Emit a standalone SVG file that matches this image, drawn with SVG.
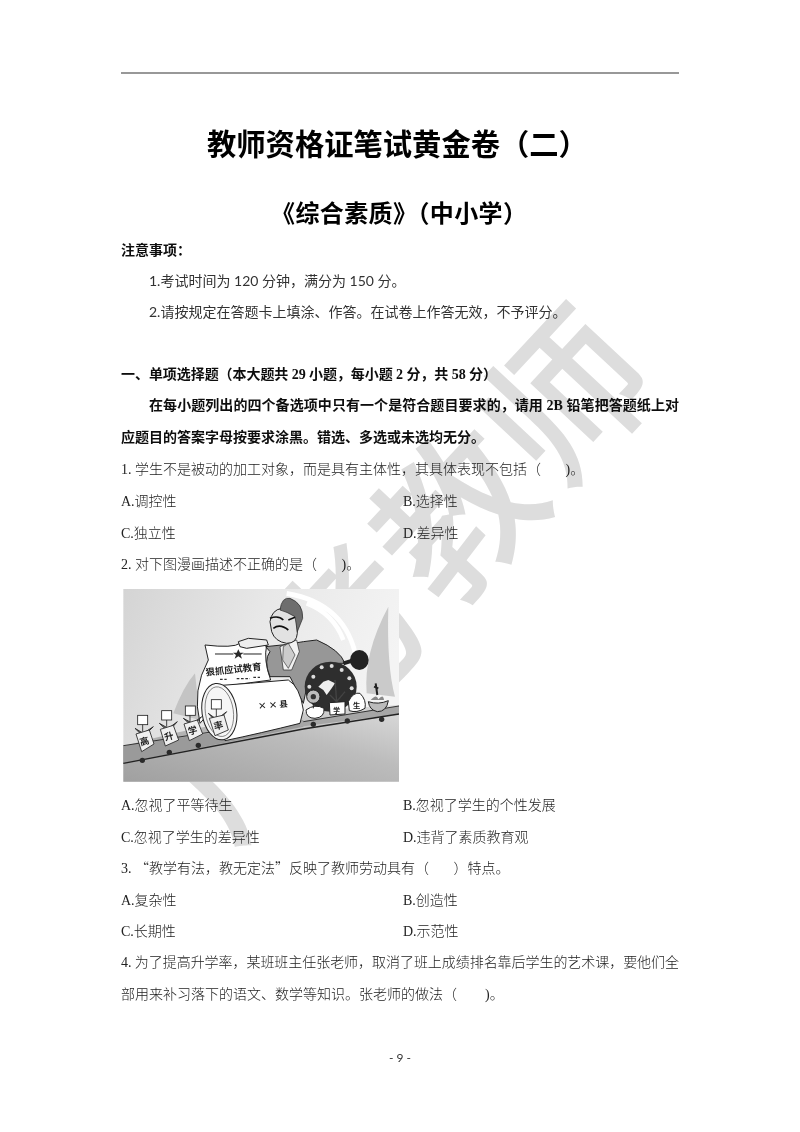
<svg xmlns="http://www.w3.org/2000/svg" width="800" height="1132" viewBox="0 0 800 1132">
<style>
text{white-space:pre}
.s{font:300 14px "Liberation Serif","Noto Sans CJK SC",sans-serif;fill:#222}
.c{font:400 14px "Lato","Noto Sans CJK SC",sans-serif;fill:#333}
.b{font:700 14px "Liberation Serif","Noto Sans CJK SC",sans-serif;fill:#111}
.h{font:700 29.3px "Liberation Sans","Noto Sans CJK SC",sans-serif;fill:#000}
.h2{font:700 24px "Liberation Sans","Noto Sans CJK SC",sans-serif;fill:#000}
.q{font-family:"Noto Sans CJK SC",sans-serif}
.l{stroke:#222;stroke-width:3;fill:#fff;stroke-linejoin:round}
.d{fill:#2a2a2a}
.k{font:700 28px "Noto Sans CJK SC",sans-serif;fill:#222}
</style>
<defs>
<linearGradient id="bg" x1="0" y1="0" x2="1" y2="0.3"><stop offset="0" stop-color="#d4d4d4"/><stop offset="0.5" stop-color="#e8e8e8"/><stop offset="1" stop-color="#f4f4f4"/></linearGradient>
<linearGradient id="gr" x1="0" y1="1" x2="1" y2="0"><stop offset="0" stop-color="#a0a0a0"/><stop offset="0.6" stop-color="#bcbcbc"/><stop offset="1" stop-color="#dcdcdc"/></linearGradient>
<filter id="bl" x="-5%" y="-5%" width="110%" height="110%"><feGaussianBlur stdDeviation="2"/></filter>
<filter id="sf" x="-2%" y="-2%" width="104%" height="104%"><feGaussianBlur stdDeviation="0.35"/></filter>
</defs>
<rect width="800" height="1132" fill="#fff"/>
<text id="watermark" transform="translate(228,848) rotate(-47)" font-family="'Noto Sans CJK SC',sans-serif" font-size="160" font-weight="500" fill="#dddddd">广考教师</text>
<g id="page" filter="url(#sf)">
<line x1="121" y1="73" x2="679" y2="73" stroke="#333" stroke-width="1.2"/>
<text class="h" x="207" y="155">教师资格证笔试黄金卷（二）</text>
<text class="h2" x="271" y="222" style="letter-spacing:.4px">《综合素质》（中小学）</text>
<text class="b q" x="121" y="255">注意事项：</text>
<text class="c" x="149" y="286">1.考试时间为 120 分钟，满分为 150 分。</text>
<text class="c" x="149" y="317">2.请按规定在答题卡上填涂、作答。在试卷上作答无效，不予评分。</text>
<text class="b" x="121" y="379" textLength="376">一、单项选择题（本大题共 29 小题，每小题 2 分，共 58 分）</text>
<text class="b" x="149" y="410" textLength="530">在每小题列出的四个备选项中只有一个是符合题目要求的，请用 2B 铅笔把答题纸上对</text>
<text class="b" x="121" y="442">应题目的答案字母按要求涂黑。错选、多选或未选均无分。</text>
<text class="s" x="121" y="474">1. 学生不是被动的加工对象，而是具有主体性，其具体表现不包括（       )。</text>
<text class="s" x="121" y="506">A.调控性</text><text class="s" x="403" y="506">B.选择性</text>
<text class="s" x="121" y="538">C.独立性</text><text class="s" x="403" y="538">D.差异性</text>
<text class="s" x="121" y="569">2. 对下图漫画描述不正确的是（       )。</text>
<g id="cartoon" transform="translate(100,580) scale(.33333)" filter="url(#bl)">
<rect x="70" y="27" width="827" height="578" fill="url(#bg)"/>
<path d="M560 40 Q740 70 770 240 M620 70 Q700 100 730 180" fill="none" stroke="#fff" stroke-width="14"/>
<path d="M70 500 Q400 400 897 375 V605 H70Z" fill="url(#gr)"/>
<path d="M800 340 Q790 220 865 80 Q860 260 885 350Z" fill="#cacaca"/>
<path d="M220 400 Q250 320 285 280 L300 420Z" fill="#c4c4c4"/>
<path d="M70 497 L610 420 L610 440 L70 550Z" fill="#9a9a9a"/>
<path d="M600 425 L897 378 L897 402 L600 440Z" fill="#a6a6a6"/>
<path d="M70 550 L610 447 L897 402" fill="none" stroke="#222" stroke-width="4"/>
<path d="M70 497 L340 455 M610 425 L897 378" fill="none" stroke="#333" stroke-width="3"/>
<g class="d"><circle cx="127" cy="541" r="8"/><circle cx="208" cy="517" r="8"/><circle cx="295" cy="496" r="8"/><circle cx="640" cy="433" r="8"/><circle cx="742" cy="423" r="8"/><circle cx="845" cy="418" r="8"/></g>
<path class="l" d="M315 195 Q400 205 420 190 L500 195 Q490 240 512 300 L400 315 L300 430 Q275 330 325 240Z"/>
<path d="M345 222H400M430 222H485" stroke="#222" stroke-width="3"/>
<path class="d" d="M415 208L420 218H431L422 225L426 236L415 229L404 236L408 225L399 218H410Z"/>
<text class="k" transform="translate(318,287) rotate(-6)">狠抓应试教育</text>
<path d="M360 298H380M410 296H450M460 292H480" stroke="#333" stroke-width="4" stroke-dasharray="8 5"/>
<path d="M497 200 Q560 195 610 185 L650 180 Q720 210 735 250 L690 250 L625 300 L610 370 L570 290 L510 290 Q490 240 510 215Z" fill="#979797" stroke="#222" stroke-width="3"/>
<path d="M540 200 L590 180 L598 215 L575 270 L550 270Z" fill="#f2f2f2" stroke="#222" stroke-width="2"/>
<path d="M550 200 L565 190 L585 225 L565 265 L548 240Z" fill="#ccc" stroke="#333" stroke-width="2"/>
<path d="M510 125 Q515 90 545 85 L590 110 L592 160 Q590 190 560 190 Q525 185 515 155Z" fill="#e2e2e2" stroke="#222" stroke-width="3"/>
<path d="M540 90 Q545 50 570 55 Q610 70 608 115 L592 155 L585 110Q560 95 540 90Z" fill="#6e6e6e" stroke="#222" stroke-width="2"/>
<path d="M510 115 Q535 105 550 120 M565 120 L585 112 M520 145 Q540 130 565 150" fill="none" stroke="#111" stroke-width="5"/>
<path d="M415 185 L445 175 L500 180 L505 195 L440 205 L420 200Z" fill="#eee" stroke="#222" stroke-width="3"/>
<path class="l" d="M340 318 Q450 310 565 300 Q600 320 610 390 L600 430 Q480 460 375 482 L340 318Z"/>
<ellipse cx="358" cy="395" rx="52" ry="85" fill="#f6f6f6" stroke="#222" stroke-width="3" transform="rotate(-8 358 395)"/>
<ellipse cx="358" cy="395" rx="42" ry="75" fill="none" stroke="#555" stroke-width="2" transform="rotate(-8 358 395)"/>
<text class="k" transform="translate(475,388) rotate(-5)" style="font-size:26px">× × 县</text>
<g id="boxes" stroke="#222" stroke-width="2.5">
<path d="M128 430V455M200 415V440M270 402V425M349 385V412" fill="none"/>
<path d="M105 445L130 460L160 440L130 470ZM178 430L205 445L232 425L205 455ZM250 415L278 430L305 410L278 440ZM325 400L350 418L380 395L350 428Z" fill="#777"/>
<rect x="113" y="406" width="30" height="28" fill="#fff"/><rect x="185" y="392" width="30" height="28" fill="#fff"/><rect x="256" y="378" width="30" height="28" fill="#fff"/><rect x="334" y="359" width="30" height="28" fill="#fff"/>
<path d="M108 462L148 450L162 492L125 515Z" fill="#f0f0f0"/><path d="M181 448L220 436L236 480L196 498Z" fill="#f0f0f0"/><path d="M252 432L292 420L308 462L268 482Z" fill="#f0f0f0"/><path d="M328 415L372 405L385 450L345 467Z" fill="#f0f0f0"/>
</g>
<text class="k" transform="translate(122,497) rotate(-15)">高</text>
<text class="k" transform="translate(196,482) rotate(-15)">升</text>
<text class="k" transform="translate(267,465) rotate(-15)">学</text>
<text class="k" transform="translate(344,450) rotate(-15)">率</text>
<g id="badge">
<path d="M730 250 L790 232" stroke="#222" stroke-width="12"/>
<ellipse cx="778" cy="240" rx="28" ry="30" fill="#222"/>
<ellipse cx="692" cy="320" rx="78" ry="75" fill="#2e2e2e"/>
<g fill="#ddd"><circle cx="640" cy="290" r="6"/><circle cx="665" cy="262" r="6"/><circle cx="695" cy="258" r="6"/><circle cx="725" cy="270" r="6"/><circle cx="748" cy="295" r="6"/><circle cx="628" cy="320" r="6"/><circle cx="755" cy="325" r="6"/></g>
<path d="M655 320L670 305L685 300L705 310L695 325L680 345L670 330Z" fill="#eee"/>
</g>
<path class="l" d="M618 390 Q645 370 672 385 Q675 412 645 415 Q618 415 618 390Z"/>
<circle cx="640" cy="350" r="20" fill="#bbb" stroke="#222" stroke-width="3"/><circle cx="640" cy="350" r="8" fill="#333"/>
<path d="M640 370V385" stroke="#222" stroke-width="3"/>
<path class="l" d="M688 368 L735 365 L735 402 L690 405Z"/>
<path d="M710 365 L705 300 M710 365 L690 345 M710 365 L735 335" stroke="#444" stroke-width="4" fill="none"/>
<text class="k" x="700" y="398" style="font-size:20px">学</text>
<path class="l" d="M745 365 Q760 335 780 340 Q800 360 795 385 Q770 400 748 392Z"/>
<text class="k" x="759" y="384" style="font-size:22px">生</text>
<path d="M805 365 Q835 375 865 362 Q860 395 832 395 Q808 390 805 365Z" fill="#bbb" stroke="#222" stroke-width="3"/>
<path d="M812 360 Q830 340 835 358 Q850 340 852 360Z" fill="#888"/>
<path d="M827 310 L832 345 M822 320 L835 325" stroke="#222" stroke-width="6"/>
</g>
<text class="s" x="121" y="810">A.忽视了平等待生</text><text class="s" x="403" y="810">B.忽视了学生的个性发展</text>
<text class="s" x="121" y="842">C.忽视了学生的差异性</text><text class="s" x="403" y="842">D.违背了素质教育观</text>
<text class="s" x="121" y="873">3. <tspan class="q">“</tspan>教学有法，教无定法<tspan class="q">”</tspan>反映了教师劳动具有（       ）特点。</text>
<text class="s" x="121" y="905">A.复杂性</text><text class="s" x="403" y="905">B.创造性</text>
<text class="s" x="121" y="936">C.长期性</text><text class="s" x="403" y="936">D.示范性</text>
<text class="s" x="121" y="967" textLength="558">4. 为了提高升学率，某班班主任张老师，取消了班上成绩排名靠后学生的艺术课，要他们全</text>
<text class="s" x="121" y="999">部用来补习落下的语文、数学等知识。张老师的做法（        )。</text>
<text class="c" x="400" y="1062" text-anchor="middle" style="font-size:12px">- 9 -</text>
</g>
</svg>
